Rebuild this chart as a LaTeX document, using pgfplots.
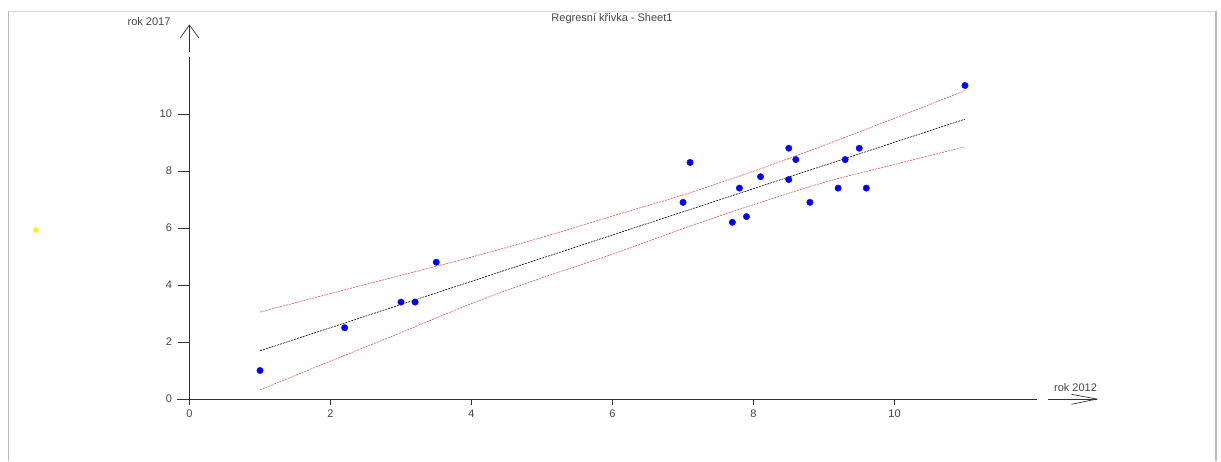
\documentclass[border=0pt]{standalone}
\usepackage{pgfplots}
\pgfplotsset{compat=1.18}
\usepackage{fontspec}
\setmainfont{Liberation Sans}
\definecolor{bandred}{RGB}{215,85,85}
\definecolor{axisgray}{RGB}{50,50,50}
\definecolor{labgray}{RGB}{70,70,70}
\definecolor{framegray}{RGB}{188,188,188}
\definecolor{toplinegray}{RGB}{218,218,218}
\begin{document}
\begin{tikzpicture}[x=1pt,y=1pt]
\path[use as bounding box] (0,0) rectangle (1221,461);
\draw[toplinegray, line width=1pt] (8.5,449.5) -- (1216,449.5);
\draw[framegray, line width=1.3pt] (8.5,0) -- (8.5,450);
\draw[framegray, line width=1.3pt] (1216,0) -- (1216,450);
\begin{axis}[
  at={(-22pt,19.25pt)}, anchor=south west,
  x=70.5pt, y=28.5pt,
  xmin=-3, xmax=13.5, ymin=-1.5, ymax=14,
  axis x line=middle, axis y line=middle,
  axis line style={draw=none},
  major tick length=0pt,
  hide obscured x ticks=false, hide obscured y ticks=false,
  xtick={0,2,4,6,8,10}, ytick={0,2,4,6,8,10},
  ticklabel style={font=\fontsize{11}{13}\selectfont, text=labgray},
  xticklabel style={yshift=-7pt},
  yticklabel style={xshift=-14pt},
  /pgf/number format/assume math mode=true,
  clip=false,
]
% axes
\draw[axisgray, line width=0.7pt] (axis cs:-0.177,0) -- (axis cs:12.02,0);
\draw[axisgray, line width=0.7pt] (axis cs:0,0) -- (axis cs:0,12);
\pgfplotsinvokeforeach{0,2,4,6,8,10}{
  \draw[axisgray, line width=0.6pt] (axis cs:#1,0) -- ++(0pt,-6pt);
  \draw[axisgray, line width=0.6pt] (axis cs:0,#1) -- ++(-12pt,0pt);
}
% arrows
\draw[axisgray, line width=0.7pt] (axis cs:12.18,0) -- (axis cs:12.87,0);
\draw[axisgray, line width=0.7pt] (axis cs:12.51,0.165) -- (axis cs:12.87,0) -- (axis cs:12.51,-0.186);
\draw[axisgray, line width=0.7pt] (axis cs:0,12.18) -- (axis cs:0,13.12);
\draw[axisgray, line width=0.7pt] (axis cs:-0.135,12.66) -- (axis cs:0,13.12) -- (axis cs:0.135,12.66);
% regression line
\addplot[black, line width=0.6pt, dash pattern=on 2pt off 1pt] coordinates {(1,1.69) (11,9.82)};
% confidence bands
\addplot[bandred, line width=0.6pt, dash pattern=on 2pt off 1pt, smooth] coordinates {
(1,3.05) (2,3.70) (3,4.34) (4,4.98) (5,5.67) (6,6.42) (7,7.16) (8,7.99) (9,8.90) (10,9.85) (11,10.82)};
\addplot[bandred, line width=0.6pt, dash pattern=on 2pt off 1pt, smooth] coordinates {
(1,0.32) (2,1.33) (3,2.33) (4,3.35) (5,4.25) (6,5.08) (7,5.98) (8,6.82) (9,7.60) (10,8.23) (11,8.85)};
% data
\addplot[only marks, mark=*, mark size=3.2pt, color=blue] coordinates {
(1,1) (2.2,2.5) (3,3.4) (3.2,3.4) (3.5,4.8) (7,6.9) (7.1,8.3) (7.7,6.2) (7.8,7.4) (7.9,6.4)
(8.1,7.8) (8.5,8.8) (8.5,7.7) (8.6,8.4) (8.8,6.9) (9.2,7.4) (9.3,8.4) (9.5,8.8) (9.6,7.4) (11,11)};
% stray marker
\addplot[only marks, mark=*, mark size=2.5pt, color=yellow] coordinates {(-2.18,5.93)};
\end{axis}
% labels
\node[font=\fontsize{11}{13}\selectfont, text=labgray] at (149,439) {rok 2017};
\node[font=\fontsize{11}{13}\selectfont, text=labgray] at (1075.5,73) {rok 2012};
\node[font=\fontsize{11}{13}\selectfont, text=labgray] at (612,442) {Regresní křivka - Sheet1};
\end{tikzpicture}
\end{document}
